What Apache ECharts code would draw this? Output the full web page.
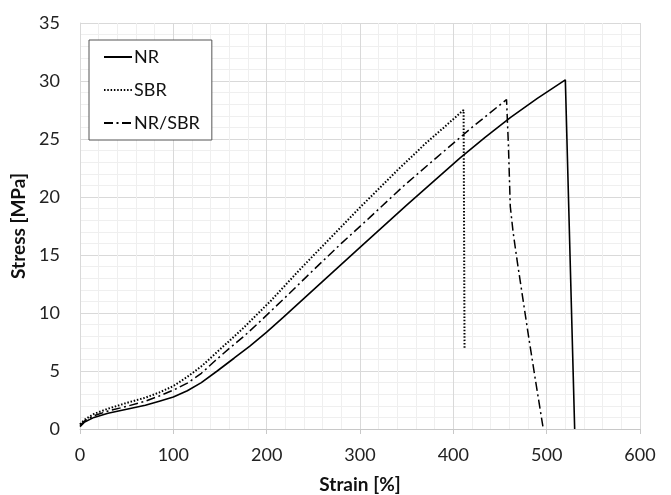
<!DOCTYPE html>
<html>
<head>
<meta charset="utf-8">
<script src="https://cdn.jsdelivr.net/npm/echarts@6/dist/echarts.min.js"></script>
<style>
  html, body { margin: 0; padding: 0; background: #fff; }
  #chart { width: 671px; height: 495px; }
</style>
</head>
<body>
<div id="chart"></div>
<script>
// strain [%], stress [MPa]
var seriesNames = ['NR', 'SBR', 'NR/SBR'];
var nrData = [[0, 0.2], [5, 0.6], [15, 1.0], [30, 1.35], [50, 1.7], [70, 2.05], [85, 2.4], [100, 2.75],
    [115, 3.3], [130, 4.0], [147, 5.0], [165, 6.1], [182, 7.15], [200, 8.35], [218, 9.65], [250, 12.0],
    [300, 15.65], [350, 19.3], [407, 23.35], [434, 25.15], [461, 26.85], [490, 28.5], [520, 30.1], [530, 0]];
var sbrData = [[0, 0.4], [5, 0.8], [15, 1.3], [30, 1.75], [50, 2.25], [70, 2.7], [85, 3.15], [100, 3.7],
    [115, 4.5], [130, 5.4], [145, 6.5], [160, 7.6], [175, 8.7], [190, 9.9], [205, 11.1], [220, 12.4],
    [235, 13.7], [250, 14.95], [300, 19.1], [340, 22.3], [370, 24.6], [390, 26.0], [411, 27.5], [412, 7.0]];
var blendData = [[0, 0.3], [5, 0.7], [15, 1.15], [30, 1.55], [50, 1.95], [70, 2.4], [85, 2.85], [100, 3.35],
    [115, 3.95], [130, 4.8], [145, 5.9], [160, 6.95], [175, 7.95], [190, 9.05], [205, 10.2], [220, 11.35],
    [250, 13.7], [280, 16.0], [310, 18.2], [346, 20.9], [382, 23.4], [420, 26.0], [457, 28.4],
    [459, 24.5], [461, 19.2], [464, 17.0], [468, 14.7], [474, 11.5], [480, 8.3], [488, 4.2], [496, 0.2]];

var font = 'Lato, "Open Sans", sans-serif';

var chart = echarts.init(document.getElementById('chart'));
chart.setOption({
    backgroundColor: '#fff',
    animation: false,
    textStyle: { fontFamily: font },
    grid: { left: 80, right: 31, top: 23, bottom: 66, outerBoundsMode: 'none', containLabel: false },
    legend: {
        orient: 'vertical',
        left: 89,
        top: 40,
        padding: [8, 12, 8, 14],
        itemGap: 15,
        itemWidth: 28,
        itemHeight: 14,
        backgroundColor: '#fff',
        borderColor: '#555',
        borderWidth: 1,
        itemStyle: { color: 'rgba(0,0,0,0)', borderWidth: 0 },
        textStyle: { fontSize: 18, color: '#111', fontFamily: font, padding: [0, 0, 0, -3] },
        data: seriesNames
    },
    xAxis: {
        type: 'value',
        min: 0, max: 600, interval: 100,
        name: 'Strain [%]',
        nameLocation: 'middle',
        nameGap: 46,
        nameTextStyle: { fontSize: 19, fontWeight: 'bold', color: '#111' },
        axisLine: { show: true, lineStyle: { color: '#c8c8c8' } },
        axisTick: { show: true, length: 5, lineStyle: { color: '#c8c8c8' } },
        axisLabel: { fontSize: 18, color: '#222', margin: 17 },
        splitLine: { show: true, lineStyle: { color: '#d9d9d9' } },
        minorTick: { show: false, splitNumber: 5 },
        minorSplitLine: { show: true, lineStyle: { color: '#efefef' } }
    },
    yAxis: {
        type: 'value',
        min: 0, max: 35, interval: 5,
        name: 'Stress [MPa]',
        nameLocation: 'middle',
        nameGap: 49,
        nameTextStyle: { fontSize: 19, fontWeight: 'bold', color: '#111' },
        axisLine: { show: true, lineStyle: { color: '#d9d9d9' } },
        axisTick: { show: false },
        axisLabel: { fontSize: 18, color: '#222', margin: 20 },
        splitLine: { show: true, lineStyle: { color: '#d9d9d9' } },
        minorTick: { show: false, splitNumber: 5 },
        minorSplitLine: { show: true, lineStyle: { color: '#efefef' } }
    },
    series: [{
        name: seriesNames[0],
        type: 'line',
        data: nrData,
        symbol: 'none',
        color: '#000',
        lineStyle: { color: '#000', width: 1.6, type: 'solid' }
    }, {
        name: seriesNames[1],
        type: 'line',
        data: sbrData,
        symbol: 'none',
        color: '#000',
        lineStyle: { color: '#000', width: 2, type: [1.5, 1.8] }
    }, {
        name: seriesNames[2],
        type: 'line',
        data: blendData,
        symbol: 'none',
        color: '#000',
        lineStyle: { color: '#000', width: 1.5, type: [9, 3.5, 2, 3.5] }
    }]
});
</script>
</body>
</html>
